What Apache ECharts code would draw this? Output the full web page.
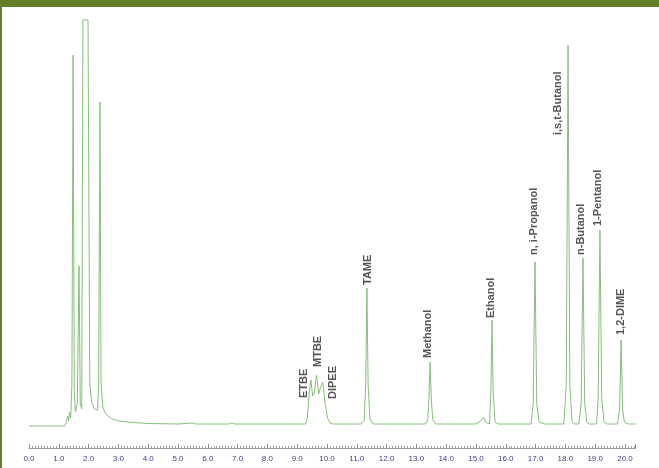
<!DOCTYPE html>
<html>
<head>
<meta charset="utf-8">
<script src="https://cdn.jsdelivr.net/npm/echarts@6/dist/echarts.min.js"></script>
<style>
  html, body { margin: 0; padding: 0; background: #ffffff; }
  #frame { position: absolute; left: 0; top: 0; width: 659px; height: 468px; box-sizing: border-box;
           border-top: 7px solid #637f27; border-left: 2px solid #637f27; background: #fff; }
  #chart { position: absolute; left: 0; top: 0; width: 659px; height: 468px; }
</style>
</head>
<body>
<div id="frame"></div>
<div id="chart"></div>
<script>
// Retention time (min) and detector response
const signal = [
  [0.00, -2], [1.20, -2], [1.26, 2], [1.30, 8], [1.33, 3], [1.36, 12], [1.40, 6], [1.44, 40],
  [1.48, 369], [1.52, 30], [1.56, 12], [1.62, 20], [1.68, 158], [1.72, 20], [1.77, 15],
  [1.81, 404], [1.98, 404], [2.04, 40], [2.10, 22], [2.20, 15], [2.30, 14], [2.34, 40],
  [2.38, 322], [2.42, 40], [2.48, 16], [2.60, 9], [2.80, 5], [3.00, 3], [3.50, 1.5],
  [4.00, 0.5], [5.00, 0], [5.50, 1], [5.60, 0], [6.70, 0], [6.80, 1], [6.90, 0],
  [9.28, 0], [9.34, 5], [9.40, 30], [9.46, 44], [9.52, 28], [9.58, 32], [9.65, 49],
  [9.72, 30], [9.78, 36], [9.86, 42], [9.94, 20], [10.02, 6], [10.10, 1], [10.20, 0],
  [11.15, 0], [11.25, 4], [11.30, 40], [11.34, 136], [11.38, 40], [11.44, 5], [11.55, 0],
  [13.30, 0], [13.38, 4], [13.42, 25], [13.46, 62], [13.50, 25], [13.55, 4], [13.65, 0],
  [15.00, 0], [15.15, 3], [15.25, 7], [15.32, 2], [15.38, 0],
  [15.45, 0], [15.50, 30], [15.54, 104], [15.58, 30], [15.64, 2], [15.75, 0],
  [16.85, 0], [16.92, 20], [16.98, 162], [17.04, 20], [17.12, 2], [17.30, 0],
  [17.95, 0], [18.03, 40], [18.09, 379], [18.15, 40], [18.22, 3], [18.30, 0],
  [18.45, 0], [18.53, 20], [18.59, 166], [18.65, 20], [18.72, 2], [18.80, 0],
  [19.05, 0], [19.10, 25], [19.16, 194], [19.22, 25], [19.30, 2], [19.40, 0],
  [19.75, 0], [19.82, 15], [19.87, 84], [19.92, 15], [19.98, 2], [20.10, 0], [20.35, 0]
];

// Compound names and where their labels sit (time, response at label start)
const peakNames = ["ETBE", "MTBE", "DIPEE", "TAME", "Methanol", "Ethanol", "n, i-Propanol",
                   "i,s,t-Butanol", "n-Butanol", "1-Pentanol", "1,2-DIME"];
const labelTimes = [9.23, 9.70, 10.20, 11.38, 13.39, 15.50, 16.95, 17.75, 18.52, 19.09, 19.87];
const labelLevels = [26, 57, 25, 139, 66, 106, 169, 289, 169, 198, 89];

const xMin = 0, xMax = 20.35, xInterval = 1;

const chart = echarts.init(document.getElementById('chart'), null, { renderer: 'canvas' });
chart.setOption({
  backgroundColor: 'transparent',
  animation: false,
  grid: { left: 29, right: 23.6, top: 18, bottom: 20 },
  xAxis: {
    type: 'value', min: xMin, max: xMax, interval: xInterval,
    axisLine: { show: true, onZero: false, lineStyle: { color: '#9a9a9a', width: 1 } },
    axisTick: { show: true, inside: true, length: 4, lineStyle: { color: '#8a8a8a' } },
    minorTick: { show: true, splitNumber: 10, length: 2, lineStyle: { color: '#a0a0a0' } },
    splitLine: { show: false },
    axisLabel: {
      color: '#3b3f88', fontSize: 8, fontFamily: 'Liberation Sans', margin: 7,
      formatter: v => (Math.abs(v - Math.round(v)) < 1e-6 ? Math.round(v).toFixed(1) : '')
    }
  },
  yAxis: {
    type: 'value', min: -24, max: 406,
    show: false, splitLine: { show: false }
  },
  series: [
    {
      type: 'line', data: signal, symbol: 'none', silent: true,
      lineStyle: { color: '#84c078', width: 1 }
    },
    {
      type: 'scatter', symbolSize: 0, silent: true,
      data: peakNames.map((n, i) => ({ name: n, value: [labelTimes[i], labelLevels[i]] })),
      label: {
        show: true, position: 'inside', rotate: 90, align: 'left', verticalAlign: 'middle',
        formatter: p => p.name, color: '#2a2a2a', fontSize: 11, fontWeight: 'bold',
        fontFamily: 'Liberation Sans'
      }
    }
  ]
});
</script>
</body>
</html>
